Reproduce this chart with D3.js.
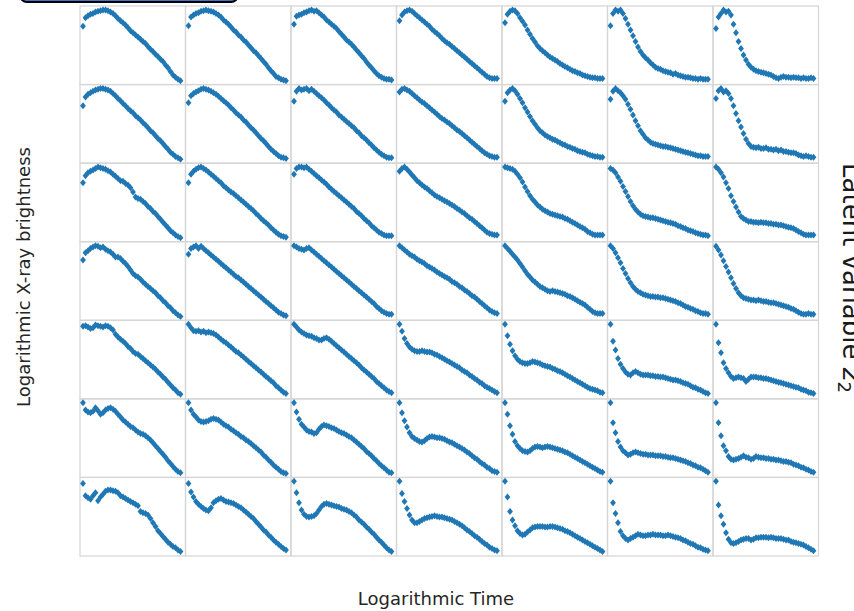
<!DOCTYPE html>
<html>
<head>
<meta charset="utf-8">
<script src="https://cdn.jsdelivr.net/npm/d3@7"></script>
<style>
  body { margin: 0; background: #fff; }
  svg { display: block; font-family: "DejaVu Sans", sans-serif; }
</style>
</head>
<body>
<div id="chart"></div>
<script>
// one array per row of the latent grid (z2 from top to bottom), 7 light curves each
// values: log brightness, rescaled 0-100, sampled on 40 evenly spaced log-time steps
const zRow1 = [
  [77,89,92,94,95,97,98,99,100,100,99,97,95,92,88,85,82,79,75,71,68,65,62,59,56,53,49,45,42,38,35,31,28,23,19,14,9,6,3,1],
  [78,90,93,95,96,98,99,100,99,98,97,95,93,90,86,83,80,76,72,69,65,62,58,55,51,47,43,40,36,32,28,24,19,15,11,7,5,3,2,1],
  [80,91,93,94,96,97,99,100,98,99,96,93,90,86,83,80,77,74,70,66,62,58,55,52,48,44,40,36,32,27,23,19,15,11,8,6,4,3,3,2],
  [85,93,97,99,100,98,95,92,89,86,83,80,77,73,70,67,64,60,57,54,52,49,46,43,40,37,34,31,28,25,22,19,16,13,10,7,5,4,4,4],
  [82,94,98,100,99,95,89,84,79,72,66,60,55,50,46,43,40,37,34,32,30,28,25,23,21,19,17,15,14,12,11,9,8,7,6,5,5,4,4,4],
  [78,95,100,98,100,95,88,80,72,64,56,48,42,37,33,30,26,23,20,18,17,15,14,13,12,10,11,9,8,7,6,6,5,4,4,3,4,3,3,3],
  [74,90,95,100,97,98,93,80,68,56,46,37,30,24,20,17,15,14,13,12,11,10,9,7,5,4,6,7,6,6,5,6,5,5,4,5,4,4,5,4]
];
const zRow2 = [
  [76,88,92,94,96,98,99,100,100,99,98,96,93,90,86,83,79,76,72,69,66,62,59,56,52,49,45,41,38,34,30,27,23,19,15,11,8,5,3,1],
  [80,90,93,95,97,99,100,99,98,96,94,92,89,86,83,80,77,73,70,66,63,60,56,53,49,45,42,38,34,30,27,23,19,15,12,9,6,4,3,2],
  [82,96,100,98,99,100,97,99,96,93,90,87,84,80,77,73,70,67,63,60,57,54,51,48,45,41,38,34,31,28,24,21,17,14,11,8,6,4,3,3],
  [95,99,100,98,96,93,90,87,84,81,79,76,73,70,67,64,61,58,56,53,51,48,45,42,40,37,34,31,28,25,22,19,16,13,10,8,6,5,4,4],
  [82,94,98,100,97,92,86,80,73,67,61,55,50,45,41,38,35,33,31,29,28,26,24,22,21,19,18,16,15,13,12,11,10,8,7,6,5,5,4,4],
  [85,96,100,97,94,90,85,78,71,63,55,48,41,36,31,28,25,23,22,21,20,19,19,18,17,16,15,14,13,12,11,10,9,8,7,6,6,5,5,5],
  [86,97,100,95,97,93,86,76,65,55,46,37,29,23,19,18,17,18,16,16,17,15,15,14,15,13,14,12,12,11,10,10,9,7,6,5,6,5,4,4]
];
const zRow3 = [
  [78,88,92,94,96,98,100,99,98,97,95,93,90,87,84,81,80,77,75,71,65,58,56,55,52,49,45,42,38,35,31,27,23,19,15,11,8,5,3,1],
  [78,90,94,97,99,100,98,96,93,90,87,84,81,78,74,71,68,65,63,60,57,54,51,48,45,42,39,35,32,28,25,22,19,15,12,9,6,4,3,2],
  [90,98,100,100,99,100,97,94,91,88,85,82,79,76,72,69,66,63,60,57,54,51,48,45,42,38,35,32,28,25,22,18,15,12,9,7,5,4,4,4],
  [94,98,100,97,93,89,85,81,78,75,72,70,67,64,61,59,57,55,53,51,49,47,45,42,40,37,35,32,29,27,24,21,18,15,12,9,7,6,5,5],
  [100,99,98,97,94,90,85,79,72,66,60,55,51,47,44,41,39,37,35,34,33,32,31,30,28,27,25,23,21,19,17,15,13,10,8,6,5,5,5,5],
  [98,96,92,86,80,73,66,59,52,46,41,37,34,32,31,30,29,29,28,27,26,25,24,23,22,21,20,18,17,15,14,12,11,10,8,7,6,5,5,4],
  [100,97,92,86,78,70,60,52,44,37,31,28,26,24,24,23,23,22,23,22,22,21,21,20,20,19,19,18,17,16,15,14,12,10,8,6,5,5,5,5]
];
const zRow4 = [
  [80,90,93,96,98,100,99,97,98,95,93,91,88,84,84,82,78,75,71,66,61,58,56,53,49,46,43,40,37,34,30,27,23,20,16,13,9,6,3,1],
  [88,96,98,100,96,99,96,93,90,87,84,81,78,75,72,69,66,63,60,57,55,52,49,46,43,40,37,34,31,28,25,22,19,16,13,10,7,5,3,2],
  [100,98,96,95,94,96,97,94,91,88,85,82,79,76,73,70,67,64,61,58,55,52,49,46,43,40,37,34,31,28,25,22,19,15,12,9,7,5,4,4],
  [100,97,94,91,88,86,84,81,79,77,75,72,70,68,66,63,61,59,57,55,53,50,48,46,43,41,38,36,33,30,28,25,22,19,16,13,10,8,6,5],
  [100,96,92,88,84,80,75,70,65,60,56,52,49,46,43,41,39,37,36,37,36,35,34,33,32,30,29,27,25,23,21,19,17,14,11,8,6,5,5,5],
  [100,96,90,83,76,68,61,54,48,43,39,36,34,32,31,30,29,29,28,28,27,27,26,25,24,23,22,20,19,17,15,14,12,11,9,8,6,5,5,4],
  [99,94,87,79,71,63,55,47,40,34,30,27,26,25,24,24,23,24,23,22,22,21,20,20,19,18,17,16,15,14,12,11,9,7,5,4,4,5,4,4]
];
const zRow5 = [
  [97,98,96,94,95,99,98,97,96,98,97,95,92,86,82,79,76,73,69,66,62,59,58,55,52,49,46,43,40,37,33,30,26,23,19,15,11,8,4,2],
  [100,95,91,90,91,89,90,88,89,88,87,85,82,79,76,74,71,68,65,62,60,57,54,51,48,45,42,39,36,33,30,27,24,21,18,14,11,8,5,3],
  [100,96,92,89,87,85,84,83,81,80,78,78,80,81,79,76,73,70,67,64,61,58,55,52,49,46,43,39,36,33,30,27,24,20,17,14,11,8,6,4],
  [100,90,80,73,68,65,63,62,62,63,62,61,61,60,58,57,55,53,51,49,47,45,43,41,39,36,34,32,29,27,24,22,19,17,14,12,10,8,6,4],
  [100,84,72,63,56,51,48,46,45,45,46,48,47,46,45,43,42,41,40,38,37,35,34,32,30,28,26,24,22,20,18,16,14,12,10,9,8,7,5,4],
  [100,76,64,52,44,38,33,30,29,32,34,32,30,29,29,29,28,28,27,27,26,26,25,24,23,22,22,21,20,18,17,16,14,12,11,9,8,6,4,3],
  [100,74,60,46,38,32,27,24,25,26,25,24,20,23,26,26,26,25,25,24,24,23,22,21,20,19,18,17,16,15,14,13,12,11,9,8,7,5,4,3]
];
const zRow6 = [
  [100,90,87,86,88,93,89,84,86,90,92,93,91,88,84,80,76,73,70,67,65,62,59,57,56,54,51,48,44,40,36,32,28,24,19,15,11,7,4,2],
  [100,90,84,80,76,74,73,74,75,77,78,77,76,73,70,68,66,63,61,58,56,53,51,48,46,43,40,37,34,31,27,24,20,17,13,10,7,4,2,1],
  [100,87,77,70,66,62,60,59,57,58,63,67,69,68,67,65,64,62,60,58,57,55,53,51,48,45,42,39,36,32,29,26,22,19,15,12,9,6,3,2],
  [100,86,75,66,58,53,50,48,46,45,47,50,52,53,52,51,51,50,49,47,45,44,42,40,38,36,34,31,29,26,23,21,18,15,13,10,8,5,4,3],
  [100,84,68,56,46,40,36,33,32,31,33,36,38,39,38,37,38,39,38,37,36,35,34,33,31,30,28,26,24,22,20,18,16,14,12,10,8,6,4,3],
  [100,72,58,46,38,33,30,27,28,30,31,30,29,28,28,27,27,27,26,26,26,25,25,24,23,23,22,21,20,19,18,16,15,13,12,10,9,7,5,3],
  [100,72,54,40,33,25,21,20,21,22,24,26,24,23,21,22,25,24,23,23,22,22,21,21,20,20,19,18,18,17,16,14,13,12,10,9,7,6,4,3]
];
const zRow7 = [
  [97,80,77,75,80,84,73,78,82,86,88,88,87,86,84,80,78,76,74,72,70,68,66,58,56,55,53,48,42,37,31,27,23,19,15,12,9,7,4,2],
  [97,85,78,72,68,65,62,60,59,63,70,73,75,76,74,72,71,70,69,67,65,63,60,57,54,51,48,44,40,36,32,29,25,22,18,15,12,9,6,4],
  [100,84,70,60,54,51,50,51,52,55,60,65,68,69,68,67,66,65,64,62,61,60,58,56,53,50,46,43,40,36,33,29,26,22,18,15,11,7,4,2],
  [100,83,72,62,53,46,42,42,44,46,48,49,50,51,52,51,50,50,49,48,47,46,44,42,40,38,35,32,30,27,24,22,19,16,13,11,8,6,4,3],
  [100,78,58,46,38,31,27,25,26,29,32,35,36,37,37,37,36,36,37,37,36,35,34,33,31,30,28,26,24,22,20,18,16,14,12,10,8,6,4,2],
  [100,70,55,42,30,24,20,18,20,22,24,26,25,24,24,25,25,26,25,25,25,24,24,25,24,23,22,21,20,18,17,15,13,12,10,8,7,5,4,3],
  [100,67,52,40,28,19,14,13,14,16,18,19,20,20,18,19,21,21,22,22,22,21,22,21,20,20,20,19,18,18,16,15,14,13,12,11,9,7,5,3]
];
const curveRows = [zRow1, zRow2, zRow3, zRow4, zRow5, zRow6, zRow7];

const xLabel = 'Logarithmic Time';
const yLabel = 'Logarithmic X-ray brightness';
const zLabel = 'Latent variable ';

const width = 854, height = 611;
const grid = {left: 80, right: 818.5, top: 6, bottom: 556};
const nSteps = zRow1[0].length;

const svg = d3.select('#chart')
    .append('svg')
    .attr('width', width)
    .attr('height', height);

const colScale = d3.scaleBand().domain(d3.range(7)).range([grid.left, grid.right]);
const rowScale = d3.scaleBand().domain(d3.range(7)).range([grid.top, grid.bottom]);
const cellW = colScale.bandwidth(), cellH = rowScale.bandwidth();

// same scales for every small panel (shared axes)
const x = d3.scaleLinear().domain([0, nSteps - 1]).range([3, cellW - 5]);
const y = d3.scaleLinear().domain([0, 100]).range([cellH * 0.96, cellH * 0.05]);

const diamond = 'M0,-3.5L2.9,0L0,3.5L-2.9,0Z';

// box cut off at the top edge
svg.append('rect')
    .attr('x', 20).attr('y', -20)
    .attr('width', 218).attr('height', 22)
    .attr('rx', 7)
    .attr('fill', '#4472c4')
    .attr('stroke', '#000')
    .attr('stroke-width', 2);

curveRows.forEach((row, r) => {
    row.forEach((series, c) => {
        const panel = svg.append('g')
            .attr('transform', `translate(${colScale(c)},${rowScale(r)})`);

        panel.append('rect')
            .attr('width', cellW)
            .attr('height', cellH)
            .attr('fill', 'none')
            .attr('stroke', '#d6d6d6')
            .attr('stroke-width', 1.25);

        panel.selectAll('path.pt')
            .data(series)
            .enter()
            .append('path')
            .attr('class', 'pt')
            .attr('d', diamond)
            .attr('transform', (d, i) => `translate(${x(i)},${y(d)})`)
            .attr('fill', '#1f77b4');
    });
});

// axis titles
svg.append('text')
    .attr('x', 436).attr('y', 605)
    .attr('text-anchor', 'middle')
    .attr('font-size', 18)
    .attr('fill', '#262626')
    .text(xLabel);

svg.append('text')
    .attr('transform', 'translate(30,277) rotate(-90)')
    .attr('text-anchor', 'middle')
    .attr('font-size', 18)
    .attr('fill', '#262626')
    .text(yLabel);

const zText = svg.append('text')
    .attr('transform', 'translate(843,278) rotate(90)')
    .attr('text-anchor', 'middle')
    .attr('font-size', 26)
    .attr('fill', '#1a1a1a');
zText.append('tspan').text(zLabel);
zText.append('tspan').attr('font-style', 'italic').text('z');
zText.append('tspan').attr('font-size', 18).attr('dy', 5).text('2');
</script>
</body>
</html>
